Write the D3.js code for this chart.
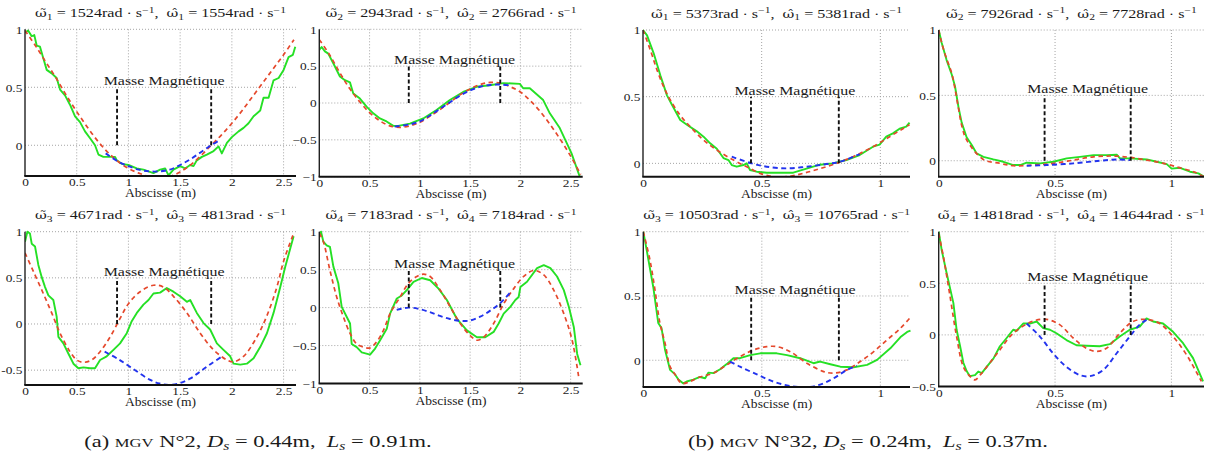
<!DOCTYPE html>
<html><head><meta charset="utf-8">
<script src="https://cdn.jsdelivr.net/npm/d3@7"></script>
<style>
body{margin:0;background:#fff}
svg{display:block}
text{font-family:"Liberation Serif","Times New Roman",serif;fill:#1a1a1a;white-space:pre}
</style>
</head><body>
<svg id="chart" width="1214" height="461"></svg>
<script>
// ---------------- DATA ----------------
const modeIndex = [1, 2, 3, 4, 1, 2, 3, 4];
const omegaTilde = [1524, 2943, 4671, 7183, 5373, 7926, 10503, 14818];
const omegaHat   = [1554, 2766, 4813, 7184, 5381, 7728, 10765, 14644];
const magnetA = [0.89, 1.80];   // magnetic mass limits, MGV N°2
const magnetB = [0.455, 0.825]; // magnetic mass limits, MGV N°32
const xTicksA = [0, 0.5, 1, 1.5, 2, 2.5];
const xTicksB = [0, 0.5, 1];
const yTicks = [[0, 0.5, 1], [-1, -0.5, 0, 0.5, 1], [-0.5, 0, 0.5, 1], [-1, -0.5, 0, 0.5, 1],
                [0, 0.5, 1], [0, 0.5, 1], [0, 0.5, 1], [-0.5, 0, 0.5, 1]];
const captionA = {tag: "(a)", num: "2", ds: "0.44", ls: "0.91"};
const captionB = {tag: "(b)", num: "32", ds: "0.24", ls: "0.37"};
const xLabel = "Abscisse (m)";
const magnetLabel = "Masse Magnétique";

// measured (green), model (red), model restricted to magnet (blue)
const meas1 = [[0,0.97],[0.03,0.99],[0.065,0.94],[0.09,0.95],[0.113,0.86],[0.145,0.85],[0.177,0.75],[0.21,0.65],[0.258,0.62],[0.306,0.58],[0.339,0.48],[0.387,0.43],[0.435,0.35],[0.484,0.25],[0.532,0.2],[0.58,0.12],[0.629,0.06],[0.677,0.0],[0.71,-0.08],[0.758,-0.1],[0.823,-0.1],[0.871,-0.1],[0.887,-0.13],[0.935,-0.16],[1.0,-0.17],[1.08,-0.2],[1.145,-0.21],[1.242,-0.24],[1.306,-0.21],[1.355,-0.2],[1.387,-0.26],[1.435,-0.21],[1.5,-0.18],[1.548,-0.2],[1.597,-0.17],[1.629,-0.18],[1.661,-0.13],[1.71,-0.1],[1.758,-0.08],[1.823,-0.05],[1.871,-0.01],[1.903,-0.07],[1.952,0.02],[2.0,0.07],[2.065,0.12],[2.113,0.15],[2.161,0.19],[2.21,0.25],[2.274,0.3],[2.306,0.41],[2.355,0.41],[2.403,0.56],[2.452,0.58],[2.5,0.65],[2.548,0.76],[2.59,0.78],[2.613,0.85]];
const model1 = [[0,0.99],[0.1,0.86],[0.2,0.72],[0.3,0.58],[0.4,0.43],[0.5,0.29],[0.6,0.16],[0.7,0.04],[0.8,-0.06],[0.9,-0.14],[1.0,-0.2],[1.1,-0.24],[1.2,-0.27],[1.3,-0.28],[1.4,-0.27],[1.5,-0.23],[1.6,-0.17],[1.7,-0.09],[1.8,0.0],[1.9,0.09],[2.0,0.19],[2.1,0.3],[2.2,0.42],[2.3,0.54],[2.4,0.66],[2.5,0.78],[2.6,0.91]];
const magnet1 = [[0.78,-0.07],[0.9,-0.14],[1.0,-0.18],[1.1,-0.21],[1.2,-0.225],[1.3,-0.225],[1.4,-0.21],[1.5,-0.17],[1.6,-0.12],[1.7,-0.06],[1.8,0.0],[1.885,0.045]];

const meas2 = [[0,0.72],[0.023,0.76],[0.056,0.7],[0.089,0.67],[0.139,0.54],[0.205,0.36],[0.255,0.31],[0.305,0.28],[0.338,0.13],[0.404,0.06],[0.47,-0.05],[0.537,-0.14],[0.603,-0.21],[0.669,-0.25],[0.736,-0.31],[0.785,-0.31],[0.901,-0.28],[1.034,-0.21],[1.166,-0.095],[1.299,0.04],[1.431,0.15],[1.564,0.22],[1.696,0.24],[1.829,0.27],[1.995,0.26],[2.028,0.2],[2.094,0.2],[2.227,0.04],[2.293,-0.14],[2.392,-0.34],[2.508,-0.68],[2.591,-1.0]];
const model2 = [[0,0.86],[0.1,0.66],[0.2,0.42],[0.3,0.2],[0.4,0.02],[0.5,-0.13],[0.6,-0.24],[0.7,-0.31],[0.8,-0.33],[0.9,-0.31],[1.0,-0.26],[1.1,-0.18],[1.2,-0.09],[1.3,0.01],[1.4,0.11],[1.5,0.19],[1.6,0.25],[1.7,0.28],[1.8,0.27],[1.9,0.22],[2.0,0.15],[2.1,0.03],[2.2,-0.12],[2.3,-0.3],[2.4,-0.5],[2.5,-0.72],[2.6,-0.97]];
const magnet2 = [[0.75,-0.32],[0.9,-0.29],[1.0,-0.25],[1.1,-0.17],[1.2,-0.08],[1.3,0.01],[1.4,0.1],[1.5,0.17],[1.6,0.22],[1.7,0.245],[1.8,0.25],[1.9,0.24]];

const meas3 = [[0,0.89],[0.023,1.0],[0.048,0.98],[0.065,0.87],[0.097,0.84],[0.129,0.64],[0.161,0.51],[0.194,0.4],[0.226,0.31],[0.274,0.26],[0.306,0.08],[0.323,-0.14],[0.371,-0.21],[0.419,-0.32],[0.468,-0.43],[0.516,-0.48],[0.565,-0.47],[0.629,-0.48],[0.677,-0.48],[0.726,-0.39],[0.79,-0.35],[0.855,-0.28],[0.919,-0.21],[0.984,-0.1],[1.032,0.03],[1.081,0.12],[1.145,0.21],[1.194,0.26],[1.242,0.33],[1.306,0.34],[1.371,0.39],[1.435,0.35],[1.5,0.3],[1.565,0.24],[1.597,0.26],[1.661,0.12],[1.726,0.01],[1.79,-0.06],[1.855,-0.21],[1.919,-0.28],[1.984,-0.35],[2.016,-0.43],[2.081,-0.44],[2.145,-0.43],[2.21,-0.37],[2.274,-0.25],[2.339,-0.1],[2.403,0.12],[2.468,0.4],[2.516,0.62],[2.565,0.82],[2.597,0.95]];
const model3 = [[0,0.77],[0.081,0.57],[0.177,0.33],[0.258,0.12],[0.339,-0.1],[0.435,-0.3],[0.5,-0.39],[0.565,-0.415],[0.645,-0.39],[0.726,-0.3],[0.823,-0.14],[0.919,0.06],[1.0,0.22],[1.113,0.35],[1.242,0.42],[1.339,0.4],[1.435,0.3],[1.565,0.12],[1.694,-0.1],[1.823,-0.28],[1.952,-0.39],[2.016,-0.41],[2.113,-0.35],[2.242,-0.14],[2.339,0.09],[2.435,0.4],[2.5,0.68],[2.59,0.96]];
const magnet3 = [[0.77,-0.3],[0.9,-0.38],[1.05,-0.49],[1.2,-0.6],[1.3,-0.645],[1.4,-0.66],[1.5,-0.64],[1.6,-0.59],[1.7,-0.51],[1.8,-0.43],[1.92,-0.34]];

const meas4 = [[0,0.96],[0.017,1.0],[0.04,0.87],[0.073,0.82],[0.106,0.8],[0.14,0.54],[0.189,0.32],[0.223,0.01],[0.272,-0.12],[0.306,-0.21],[0.322,-0.48],[0.372,-0.52],[0.422,-0.59],[0.505,-0.62],[0.555,-0.54],[0.605,-0.43],[0.671,-0.28],[0.704,-0.08],[0.771,0.12],[0.821,0.16],[0.87,0.23],[0.937,0.34],[1.02,0.39],[1.103,0.36],[1.186,0.25],[1.269,0.1],[1.369,-0.15],[1.468,-0.3],[1.568,-0.39],[1.651,-0.39],[1.734,-0.32],[1.784,-0.21],[1.834,-0.08],[1.9,0.01],[1.95,0.1],[1.983,0.14],[2.0,0.27],[2.066,0.34],[2.166,0.52],[2.233,0.56],[2.299,0.52],[2.365,0.41],[2.432,0.23],[2.482,0.01],[2.532,-0.26],[2.565,-0.61],[2.598,-0.76]];
const model4 = [[0,0.98],[0.04,0.87],[0.106,0.49],[0.173,0.14],[0.239,-0.12],[0.306,-0.34],[0.372,-0.48],[0.439,-0.52],[0.505,-0.53],[0.571,-0.45],[0.638,-0.3],[0.704,-0.08],[0.804,0.14],[0.887,0.32],[0.97,0.41],[1.037,0.44],[1.103,0.41],[1.203,0.23],[1.302,0.01],[1.402,-0.21],[1.502,-0.37],[1.568,-0.43],[1.635,-0.39],[1.734,-0.21],[1.834,0.05],[1.934,0.25],[2.033,0.41],[2.133,0.49],[2.233,0.43],[2.332,0.23],[2.432,-0.08],[2.515,-0.43],[2.581,-0.92]];
const magnet4 = [[0.77,-0.03],[0.89,0.0],[1.0,-0.02],[1.1,-0.06],[1.2,-0.11],[1.3,-0.15],[1.4,-0.175],[1.5,-0.17],[1.6,-0.12],[1.7,-0.04],[1.8,0.06],[1.9,0.2]];

const meas5 = [[0,1],[0.017,0.96],[0.045,0.825],[0.073,0.66],[0.101,0.51],[0.122,0.44],[0.157,0.325],[0.185,0.29],[0.227,0.24],[0.255,0.2],[0.283,0.15],[0.311,0.11],[0.339,0.04],[0.36,0.025],[0.374,-0.0125],[0.395,-0.025],[0.423,-0.0125],[0.437,0.0],[0.451,-0.05],[0.479,-0.0625],[0.521,-0.07],[0.563,-0.07],[0.633,-0.07],[0.689,-0.04],[0.745,-0.01],[0.801,0.0],[0.857,0.025],[0.913,0.0625],[0.969,0.125],[0.997,0.14],[1.025,0.2],[1.053,0.225],[1.081,0.26],[1.109,0.275],[1.123,0.305]];
const model5 = [[0,1],[0.031,0.85],[0.059,0.7],[0.087,0.575],[0.115,0.475],[0.157,0.36],[0.199,0.275],[0.255,0.175],[0.311,0.1],[0.381,0.025],[0.437,-0.025],[0.493,-0.075],[0.549,-0.1],[0.605,-0.1],[0.675,-0.075],[0.745,-0.04],[0.815,0.0],[0.885,0.05],[0.969,0.125],[1.039,0.2],[1.095,0.26],[1.123,0.29]];
const magnet5 = [[0.374,0.05],[0.458,0.0],[0.521,-0.025],[0.605,-0.0375],[0.689,-0.025],[0.773,-0.005],[0.83,0.0125],[0.913,0.07]];

const meas6 = [[0,1],[0.013,0.9],[0.034,0.77],[0.056,0.66],[0.07,0.57],[0.085,0.41],[0.099,0.29],[0.12,0.18],[0.142,0.12],[0.163,0.056],[0.192,0.03],[0.235,0.01],[0.278,-0.008],[0.321,-0.033],[0.35,-0.033],[0.378,-0.015],[0.436,-0.02],[0.493,-0.008],[0.55,0.018],[0.607,0.03],[0.665,0.043],[0.722,0.043],[0.765,0.046],[0.779,0.018],[0.822,0.018],[0.894,0.01],[0.937,-0.008],[0.98,-0.026],[1.001,-0.06],[1.037,-0.054],[1.08,-0.084],[1.116,-0.097],[1.138,-0.12]];
const model6 = [[0,1],[0.013,0.9],[0.034,0.78],[0.056,0.67],[0.07,0.55],[0.085,0.4],[0.099,0.27],[0.12,0.16],[0.192,0.01],[0.264,-0.02],[0.321,-0.038],[0.407,-0.033],[0.493,-0.02],[0.579,0.005],[0.665,0.03],[0.751,0.036],[0.822,0.026],[0.894,0.005],[0.966,-0.02],[1.037,-0.054],[1.095,-0.084],[1.138,-0.12]];
const magnet6 = [[0.378,-0.038],[0.464,-0.033],[0.579,-0.02],[0.693,0.0],[0.765,0.01],[0.822,0.005]];

const meas7 = [[0,1.0],[0.014,0.86],[0.042,0.57],[0.063,0.29],[0.077,0.25],[0.092,0.08],[0.113,-0.075],[0.134,-0.11],[0.148,-0.15],[0.169,-0.18],[0.183,-0.165],[0.211,-0.15],[0.239,-0.13],[0.261,-0.14],[0.275,-0.096],[0.296,-0.1],[0.324,-0.07],[0.352,-0.03],[0.38,0.016],[0.408,0.016],[0.451,0.04],[0.493,0.054],[0.563,0.054],[0.606,0.04],[0.662,0.016],[0.718,-0.023],[0.746,-0.01],[0.789,-0.031],[0.831,-0.05],[0.887,-0.054],[0.944,-0.036],[0.986,0.003],[1.042,0.093],[1.085,0.18],[1.113,0.22],[1.127,0.23]];
const model7 = [[0,1],[0.028,0.78],[0.049,0.55],[0.07,0.29],[0.092,0.13],[0.113,-0.05],[0.134,-0.11],[0.162,-0.18],[0.197,-0.165],[0.239,-0.13],[0.296,-0.1],[0.352,-0.036],[0.408,0.028],[0.465,0.08],[0.521,0.106],[0.563,0.106],[0.62,0.067],[0.69,-0.023],[0.761,-0.088],[0.803,-0.1],[0.859,-0.075],[0.915,-0.01],[0.972,0.067],[1.028,0.158],[1.085,0.25],[1.127,0.334]];
const magnet7 = [[0.366,-0.01],[0.408,-0.05],[0.479,-0.11],[0.549,-0.166],[0.62,-0.2],[0.69,-0.21],[0.746,-0.19],[0.803,-0.14],[0.859,-0.075],[0.901,-0.044]];

const meas8 = [[0,1],[0.013,0.82],[0.034,0.6],[0.063,0.31],[0.077,0.05],[0.092,-0.11],[0.106,-0.27],[0.12,-0.35],[0.134,-0.4],[0.156,-0.39],[0.17,-0.355],[0.185,-0.37],[0.206,-0.31],[0.235,-0.23],[0.263,-0.11],[0.292,-0.03],[0.32,0.05],[0.335,0.04],[0.363,0.11],[0.392,0.11],[0.421,0.13],[0.449,0.065],[0.478,0.05],[0.506,0.016],[0.549,-0.05],[0.592,-0.1],[0.635,-0.105],[0.692,-0.11],[0.735,-0.09],[0.778,-0.016],[0.821,0.05],[0.864,0.08],[0.893,0.16],[0.921,0.13],[0.964,0.11],[1.007,0.03],[1.05,-0.08],[1.093,-0.225],[1.136,-0.45]];
const model8 = [[0,0.98],[0.02,0.76],[0.049,0.37],[0.077,-0.016],[0.106,-0.31],[0.134,-0.4],[0.156,-0.435],[0.185,-0.37],[0.22,-0.27],[0.263,-0.145],[0.306,-0.016],[0.349,0.065],[0.406,0.135],[0.464,0.15],[0.521,0.097],[0.578,-0.03],[0.635,-0.13],[0.678,-0.16],[0.721,-0.13],[0.778,0.016],[0.835,0.13],[0.893,0.15],[0.95,0.11],[1.007,-0.016],[1.064,-0.19],[1.129,-0.45]];
const magnet8 = [[0.378,0.11],[0.435,-0.016],[0.492,-0.18],[0.549,-0.31],[0.607,-0.39],[0.65,-0.4],[0.707,-0.34],[0.764,-0.18],[0.821,-0.016],[0.864,0.1],[0.893,0.145]];

const measured = [meas1, meas2, meas3, meas4, meas5, meas6, meas7, meas8];
const models   = [model1, model2, model3, model4, model5, model6, model7, model8];
const magnets  = [magnet1, magnet2, magnet3, magnet4, magnet5, magnet6, magnet7, magnet8];

// ---------------- LAYOUT ----------------
const frames = [
  {l: 25,    r: 296,  t: 29.3,  b: 176,   xmax: 2.62,  ylim: [-0.265, 1], grp: 0, minus: "\u2212"},
  {l: 319.3, r: 582.7,t: 29.3,  b: 176.7, xmax: 2.62,  ylim: [-1, 1],     grp: 0, minus: "\u2212"},
  {l: 25,    r: 296,  t: 231.7, b: 385,   xmax: 2.62,  ylim: [-0.661, 1], grp: 0, minus: "-"},
  {l: 319.3, r: 582.7,t: 231.7, b: 383.5, xmax: 2.62,  ylim: [-1, 1],     grp: 0, minus: "\u2212"},
  {l: 643,   r: 910,  t: 30,    b: 176.7, xmax: 1.125, ylim: [-0.1, 1],   grp: 1, minus: "\u2212"},
  {l: 938.7, r: 1204, t: 30,    b: 176.7, xmax: 1.14,  ylim: [-0.122, 1], grp: 1, minus: "\u2212"},
  {l: 643.3, r: 910,  t: 231.7, b: 387,   xmax: 1.125, ylim: [-0.208, 1], grp: 1, minus: "\u2212"},
  {l: 938.7, r: 1204, t: 231.7, b: 386.5, xmax: 1.14,  ylim: [-0.5, 1],   grp: 1, minus: "\u2212"}
];
const GREEN = "#25e025", RED = "#e5482c", BLUE = "#2233ee";
const svg = d3.select("#chart");
const defs = svg.append("defs");
const TXS = 1.18; // horizontal stretch of glyphs in the reference
const TFS = 12.2; // title font size

const titleNodes = [];
const magnetNodes = [];

function accented(t, accent, k) {
  // omega carrying a combining accent, then subscript k
  t.append("tspan").attr("font-family", "DejaVu Serif").attr("font-size", "0.9em").text("\u03C9" + accent);
  t.append("tspan").attr("font-size", "0.72em").attr("dy", 2.5).text(k);
}

frames.forEach((f, i) => {
  const x = d3.scaleLinear().domain([0, f.xmax]).range([f.l, f.r]);
  const y = d3.scaleLinear().domain(f.ylim).range([f.b, f.t]);
  const g = svg.append("g");
  const xt = f.grp === 0 ? xTicksA : xTicksB;
  const mag = f.grp === 0 ? magnetA : magnetB;
  const fmt = v => (v < 0 ? f.minus + Math.abs(v) : String(v));

  // grid
  g.append("g").selectAll("line").data(xt.filter(v => v > 0)).join("line")
    .attr("x1", d => x(d)).attr("x2", d => x(d)).attr("y1", f.t).attr("y2", f.b)
    .attr("stroke", "#9a9a9a").attr("stroke-width", 0.9).attr("stroke-dasharray", "1,2");
  g.append("g").selectAll("line").data(yTicks[i]).join("line")
    .attr("x1", f.l).attr("x2", f.r).attr("y1", d => y(d)).attr("y2", d => y(d))
    .attr("stroke", "#9a9a9a").attr("stroke-width", 0.9).attr("stroke-dasharray", "1,2");

  // clip
  defs.append("clipPath").attr("id", "clip" + i).append("rect")
    .attr("x", f.l).attr("y", f.t - 3).attr("width", f.r - f.l + 1).attr("height", f.b - f.t + 3);
  const pg = g.append("g").attr("clip-path", `url(#clip${i})`);

  const lineLin = d3.line().x(d => x(d[0])).y(d => y(d[1]));
  const lineSm = d3.line().x(d => x(d[0])).y(d => y(d[1])).curve(d3.curveCatmullRom.alpha(0.5));

  pg.append("path").datum(measured[i]).attr("d", lineLin)
    .attr("fill", "none").attr("stroke", GREEN).attr("stroke-width", 1.9).attr("stroke-linejoin", "round");
  pg.append("path").datum(models[i]).attr("d", lineSm)
    .attr("fill", "none").attr("stroke", RED).attr("stroke-width", 1.7).attr("stroke-dasharray", "4.5,3.5");
  pg.append("path").datum(magnets[i]).attr("d", lineSm)
    .attr("fill", "none").attr("stroke", BLUE).attr("stroke-width", 1.9).attr("stroke-dasharray", "5,3.5");

  // magnetic mass markers
  g.append("g").selectAll("line").data(mag).join("line")
    .attr("x1", d => x(d)).attr("x2", d => x(d)).attr("y1", y(0)).attr("y2", y(0.5))
    .attr("stroke", "#111").attr("stroke-width", 1.9).attr("stroke-dasharray", "4,2.5");
  const mt = g.append("text").attr("text-anchor", "middle").attr("font-size", 12.5)
    .attr("transform", `translate(${x((mag[0] + mag[1]) / 2)},${y(0.5) - 2})`).text(magnetLabel);
  magnetNodes.push(mt);

  // axes lines
  g.append("line").attr("x1", f.l).attr("x2", f.l).attr("y1", f.t).attr("y2", f.b)
    .attr("stroke", "#222").attr("stroke-width", 1.4);
  g.append("line").attr("x1", f.l - 0.7).attr("x2", f.r).attr("y1", f.b).attr("y2", f.b)
    .attr("stroke", "#111").attr("stroke-width", 2);

  // tick labels via d3 axes
  const ax = g.append("g").attr("transform", `translate(0,${f.b})`)
    .call(d3.axisBottom(x).tickValues(xt).tickSize(0).tickPadding(0).tickFormat(fmt));
  ax.select(".domain").remove();
  ax.attr("font-family", null).attr("font-size", null);
  ax.selectAll("text").attr("y", 10).attr("dy", null).attr("font-size", 11.3)
    .attr("fill", "#1a1a1a").attr("transform", `scale(${TXS},1)`);

  const ay = g.append("g").attr("transform", `translate(${f.l},0)`)
    .call(d3.axisLeft(y).tickValues(yTicks[i]).tickSize(0).tickPadding(2.3).tickFormat(fmt));
  ay.select(".domain").remove();
  ay.attr("font-family", null).attr("font-size", null);
  ay.selectAll("text").attr("dy", "0.34em").attr("font-size", 11.3)
    .attr("fill", "#1a1a1a").attr("transform", `scale(${TXS},1)`);

  // x label
  g.append("text").attr("text-anchor", "middle").attr("font-size", 11.5)
    .attr("transform", `translate(${(f.l + f.r) / 2},${f.b + 21}) scale(${TXS},1)`).text(xLabel);

  // title
  const tt = g.append("text").attr("text-anchor", "middle").attr("font-size", TFS)
    .attr("data-cx", (f.l + f.r) / 2).attr("data-y", f.t - 12.3);
  const k = modeIndex[i];
  accented(tt, "\u0303", k);
  tt.append("tspan").attr("dy", -2.5).text(` = ${omegaTilde[i]}rad \u00B7 s`);
  tt.append("tspan").attr("font-size", "0.72em").attr("dy", -4.5).text("\u22121");
  tt.append("tspan").attr("dy", 4.5).text(",  ");
  accented(tt, "\u0302", k);
  tt.append("tspan").attr("dy", -2.5).text(` = ${omegaHat[i]}rad \u00B7 s`);
  tt.append("tspan").attr("font-size", "0.72em").attr("dy", -4.5).text("\u22121");
  titleNodes.push(tt);
});

// horizontal fitting of titles and magnet labels to the reference widths
const s0 = 251 / titleNodes[0].node().getComputedTextLength();
titleNodes.forEach(t => t.attr("transform", `translate(${t.attr("data-cx")},${t.attr("data-y")}) scale(${s0},1)`));
const sm = 121 / magnetNodes[0].node().getComputedTextLength();
magnetNodes.forEach(t => t.attr("transform", t.attr("transform") + ` scale(${sm},1)`));

// captions
function caption(c, cx) {
  const t = svg.append("text").attr("text-anchor", "middle").attr("font-size", 16.5);
  t.append("tspan").text(c.tag + " ");
  t.append("tspan").attr("font-size", "0.74em").text("MGV");
  t.append("tspan").text(` N\u00B0${c.num}, `);
  t.append("tspan").attr("font-style", "italic").text("D");
  t.append("tspan").attr("font-style", "italic").attr("font-size", "0.7em").attr("dy", 3).text("s");
  t.append("tspan").attr("dy", -3).text(` = ${c.ds}m,  `);
  t.append("tspan").attr("font-style", "italic").text("L");
  t.append("tspan").attr("font-style", "italic").attr("font-size", "0.7em").attr("dy", 3).text("s");
  t.append("tspan").attr("dy", -3).text(` = ${c.ls}m.`);
  return t.attr("data-cx", cx);
}
const capA = caption(captionA, 258);
const capB = caption(captionB, 868);
const sc = 360 / capB.node().getComputedTextLength();
[capA, capB].forEach(t => t.attr("transform", `translate(${t.attr("data-cx")},447) scale(${sc},1)`));
</script>
</body></html>
